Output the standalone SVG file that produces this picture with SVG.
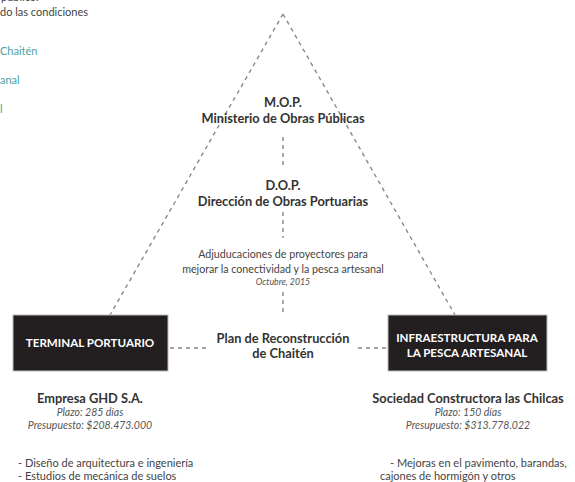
<svg xmlns="http://www.w3.org/2000/svg" width="575" height="482" viewBox="0 0 575 482">
<style>
text{font-family:Lato,"Open Sans",sans-serif;fill:#333}
.b{font-weight:bold;font-size:12.8px;text-anchor:middle}
.r{font-size:10.7px;text-anchor:middle;fill:#444}
.i{font-style:italic;font-size:10.5px;text-anchor:middle;fill:#555}
.l{font-size:11px;fill:#444}
.t{font-size:11px;fill:#4a9fa6}
.w{fill:#fff;font-size:11.6px;font-weight:bold;text-anchor:middle}
.box{fill:#231f20;stroke:#bbb;stroke-width:1}
.d{stroke:#888;stroke-width:1.4;stroke-dasharray:4 4;fill:none}
</style>
<g id="side-notes">
<text class="l" x="1" y="1">público.</text>
<text class="l" x="0" y="16">do las condiciones</text>
<text class="t" x="0" y="55">Chaitén</text>
<text class="t" x="0" y="84">anal</text>
<text class="t" x="0" y="113">l</text>
</g>
<g id="connectors">
<path class="d" d="M283 14 L110 315"/>
<path class="d" d="M283 14 L455 315"/>
<path class="d" d="M283 137 V168"/>
<path class="d" d="M283 212 V238"/>
<path class="d" d="M283 292 V314"/>
<path class="d" d="M170 348 H210"/>
<path class="d" d="M358 348 H386"/>
</g>
<g id="mop">
<text class="b" x="283" y="107">M.O.P.</text>
<text class="b" x="283" y="123">Ministerio de Obras Públicas</text>
</g>
<g id="dop">
<text class="b" x="283" y="190">D.O.P.</text>
<text class="b" x="283" y="206">Dirección de Obras Portuarias</text>
</g>
<g id="adjudicaciones">
<text class="r" x="283" y="258">Adjuducaciones de proyectores para</text>
<text class="r" x="283" y="273">mejorar la conectividad y la pesca artesanal</text>
<text class="i" x="283" y="285" style="font-size:8.8px">Octubre, 2015</text>
</g>
<g id="plan">
<text class="b" x="283" y="343">Plan de Reconstrucción</text>
<text class="b" x="283" y="358">de Chaitén</text>
</g>
<g id="terminal">
<rect class="box" x="13" y="315" width="155" height="56"/>
<text class="w" x="90" y="347">TERMINAL PORTUARIO</text>
</g>
<g id="infraestructura">
<rect class="box" x="388" y="315" width="159" height="56"/>
<text class="w" x="467" y="342">INFRAESTRUCTURA  PARA</text>
<text class="w" x="467" y="357">LA PESCA ARTESANAL</text>
</g>
<g id="ghd">
<text class="b" x="90" y="403">Empresa GHD S.A.</text>
<text class="i" x="90" y="416">Plazo: 285 días</text>
<text class="i" x="90" y="429">Presupuesto: $208.473.000</text>
<text class="l" x="18" y="467">-  Diseño de arquitectura e ingeniería</text>
<text class="l" x="18" y="480">-  Estudios de mecánica de suelos</text>
</g>
<g id="chilcas">
<text class="b" x="468" y="403">Sociedad Constructora las Chilcas</text>
<text class="i" x="468" y="416">Plazo: 150 días</text>
<text class="i" x="468" y="429">Presupuesto: $313.778.022</text>
<text class="l" x="390" y="467">-  Mejoras en el pavimento, barandas,</text>
<text class="l" x="380" y="480">cajones de hormigón y otros</text>
</g>
</svg>
